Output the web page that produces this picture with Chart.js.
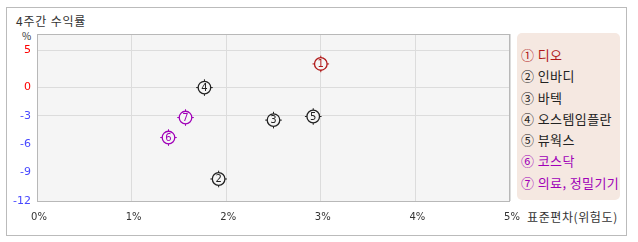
<!DOCTYPE html>
<html>
<head>
<meta charset="utf-8">
<script src="https://cdn.jsdelivr.net/npm/chart.js@4"></script>
<style>
  body { margin: 0; width: 638px; height: 242px; position: relative; overflow: hidden; background: #fff;
         font-family: "Noto Sans CJK KR", sans-serif; color: #333; }
  .frame { position: absolute; left: 6px; top: 7px; width: 619px; height: 227px; border: 1px solid #bbb; }
  #chart { position: absolute; left: 0; top: 0; }
  .title { position: absolute; left: 16px; top: 12px; font-size: 12px; line-height: 18px; letter-spacing: 0.8px; color: #333; }
  .unit { position: absolute; left: 22px; top: 30px; font-size: 10px; line-height: 12px; color: #333; }
  .xtitle { position: absolute; left: 527px; top: 208px; font-size: 12px; line-height: 18px; letter-spacing: 0.6px; color: #333; }
  .legend { position: absolute; left: 517px; top: 33px; width: 103px; height: 167px; background: #f5e8e1;
            border-radius: 5px; box-sizing: border-box; padding: 11px 0 0 4px; }
  .legend div { font-size: 13px; line-height: 21.3px; letter-spacing: 0.4px; white-space: nowrap; }
</style>
</head>
<body>
<div class="frame"></div>
<div class="title">4주간 수익률</div>
<div class="unit">%</div>
<div class="xtitle">표준편차(위험도)</div>
<div class="legend" id="legend"></div>
<canvas id="chart" width="638" height="242"></canvas>
<script>
// data
const names = ['디오', '인바디', '바텍', '오스템임플란', '뷰웍스', '코스닥', '의료, 정밀기기'];
const stdDev = [3.00, 1.92, 2.50, 1.77, 2.92, 1.39, 1.57];     // %
const returns = [3.15, -9.68, -3.47, -0.04, -3.09, -5.31, -3.2]; // %
const xTicks = [0, 1, 2, 3, 4, 5];
const yTicks = [5, 0, -3, -6, -9, -12];
const yGridAt = [5, 0, -3];

const circled = ['①', '②', '③', '④', '⑤', '⑥', '⑦'];
const pointColors = ['#b01818', '#222', '#222', '#222', '#222', '#a000b8', '#a000b8'];

// legend
document.getElementById('legend').innerHTML = names
  .map((n, i) => `<div style="color:${pointColors[i]}">${circled[i]} ${n}</div>`)
  .join('');

// y axis with different spacing above and below zero
class SplitScale extends Chart.LinearScale {
  zeroPixel() { return this.top + (this.bottom - this.top) * this.options.zeroAt; }
  getPixelForValue(v) {
    const z = this.zeroPixel();
    return v >= 0 ? z - v / this.max * (z - this.top) : z + v / this.min * (this.bottom - z);
  }
  getValueForPixel(p) {
    const z = this.zeroPixel();
    return p <= z ? (z - p) / (z - this.top) * this.max : (p - z) / (this.bottom - z) * this.min;
  }
}
SplitScale.id = 'split';
SplitScale.defaults = { ...Chart.LinearScale.defaults };
Chart.register(SplitScale);

const points = stdDev.map((x, i) => ({ x, y: returns[i] }));

const plotFrame = {
  id: 'plotFrame',
  beforeDraw(chart) {
    const { ctx, chartArea: a } = chart;
    ctx.save();
    ctx.fillStyle = '#f5f5f5';
    ctx.fillRect(a.left, a.top, a.right - a.left, a.bottom - a.top);
    ctx.restore();
  },
  beforeDatasetsDraw(chart) {
    const { ctx, chartArea: a } = chart;
    ctx.save();
    ctx.strokeStyle = '#b8b8b8';
    ctx.lineWidth = 1;
    ctx.strokeRect(Math.round(a.left) + 0.5, Math.round(a.top) + 0.5,
                   Math.round(a.right - a.left) - 1, Math.round(a.bottom - a.top));
    ctx.restore();
  }
};

const markerLabels = {
  id: 'markerLabels',
  afterDatasetsDraw(chart) {
    const ctx = chart.ctx;
    ctx.save();
    ctx.font = '10px "DejaVu Sans"';
    ctx.textAlign = 'center';
    ctx.textBaseline = 'middle';
    chart.getDatasetMeta(0).data.forEach((pt, i) => {
      ctx.fillStyle = pointColors[i];
      ctx.fillText(String(i + 1), pt.x, pt.y + 0.5);
    });
    ctx.restore();
  }
};

new Chart(document.getElementById('chart'), {
  type: 'scatter',
  data: {
    datasets: [
      {
        data: points,
        order: 1,
        pointStyle: 'circle',
        pointRadius: 6.3,
        pointBackgroundColor: '#f5f5f5',
        pointBorderColor: pointColors,
        pointBorderWidth: 1.3
      },
      {
        data: points,
        order: 2,
        pointStyle: 'cross',
        pointRadius: 8.3,
        pointBorderColor: pointColors,
        pointBorderWidth: 1
      }
    ]
  },
  options: {
    responsive: false,
    animation: false,
    events: [],
    layout: { padding: { top: 34, right: 128, left: 0, bottom: 0 } },
    plugins: { legend: { display: false }, tooltip: { enabled: false } },
    scales: {
      x: {
        type: 'linear',
        min: 0,
        max: 5,
        afterFit: s => { s.height = 41; },
        afterBuildTicks: s => { s.ticks = xTicks.map(v => ({ value: v })); },
        border: { display: false },
        grid: { color: '#dcdcdc', drawTicks: false },
        ticks: {
          padding: 10,
          labelOffset: 2,
          color: '#333',
          font: { family: 'DejaVu Sans', size: 10 },
          callback: v => v + '%'
        }
      },
      y: {
        type: 'split',
        min: -12,
        max: 7.2,
        zeroAt: 0.3186,
        afterFit: s => { s.width = 37; },
        afterBuildTicks: s => { s.ticks = yTicks.map(v => ({ value: v })); },
        border: { display: false },
        grid: {
          drawTicks: false,
          color: c => (c.tick && yGridAt.includes(c.tick.value)) ? '#dcdcdc' : 'rgba(0,0,0,0)'
        },
        ticks: {
          padding: 6,
          font: { family: 'DejaVu Sans', size: 11 },
          color: c => (c.tick && c.tick.value >= 0) ? '#ff0000' : '#4848ff',
          callback: v => String(v)
        }
      }
    }
  },
  plugins: [plotFrame, markerLabels]
});
</script>
</body>
</html>
